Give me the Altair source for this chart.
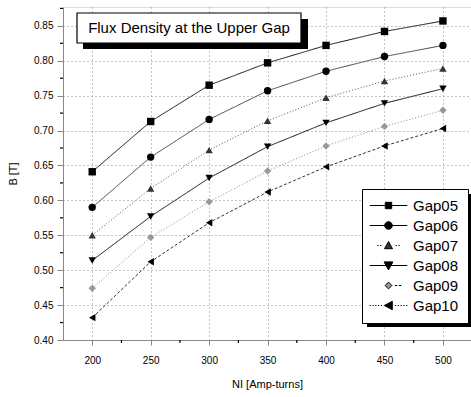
import altair as alt
import pandas as pd

ni = [200, 250, 300, 350, 400, 450, 500]
series_names = ["Gap05", "Gap06", "Gap07", "Gap08", "Gap09", "Gap10"]
gap05 = [0.641, 0.713, 0.765, 0.797, 0.822, 0.842, 0.857]
gap06 = [0.590, 0.662, 0.716, 0.757, 0.785, 0.806, 0.822]
gap07 = [0.550, 0.617, 0.672, 0.714, 0.747, 0.771, 0.789]
gap08 = [0.514, 0.577, 0.632, 0.677, 0.711, 0.739, 0.760]
gap09 = [0.474, 0.547, 0.598, 0.642, 0.678, 0.706, 0.729]
gap10 = [0.432, 0.512, 0.568, 0.612, 0.648, 0.678, 0.703]
x_ticks = [200, 250, 300, 350, 400, 450, 500]
x_minor = [225, 275, 325, 375, 425, 475]
y_ticks = [0.40, 0.45, 0.50, 0.55, 0.60, 0.65, 0.70, 0.75, 0.80, 0.85]
y_minor = [0.425, 0.475, 0.525, 0.575, 0.625, 0.675, 0.725, 0.775, 0.825, 0.875]
title_text = "Flux Density at the Upper Gap"

rows = []
for name, vals in zip(series_names, [gap05, gap06, gap07, gap08, gap09, gap10]):
    for x, y in zip(ni, vals):
        rows.append({"NI": x, "B": y, "series": name})
df = pd.DataFrame(rows)
df_xminor = pd.DataFrame({"NI": x_minor})
df_yminor = pd.DataFrame({"B": y_minor})

FONT = "Liberation Sans"
W, H = 408, 333

xscale = alt.Scale(domain=[175, 524], nice=False, zero=False)
yscale = alt.Scale(domain=[0.40, 0.877], nice=False, zero=False)

xenc = alt.X("NI:Q", scale=xscale, title="NI  [Amp-turns]",
             axis=alt.Axis(values=x_ticks, format="d", grid=True, gridDash=[1, 3],
                           gridColor="#888", tickSize=5, labelPadding=10,
                           titlePadding=13, titleFontWeight="normal", labelOverlap=False))
yenc = alt.Y("B:Q", scale=yscale, title="B  [T]",
             axis=alt.Axis(values=y_ticks, format=".2f", grid=True, gridDash=[1, 3],
                           gridColor="#888", tickSize=6, labelPadding=4,
                           titlePadding=15, titleFontWeight="normal", labelOverlap=False))

line_colors = ["#111", "#444", "#555", "#111", "#888", "#333"]
dashes = [[1, 0], [1, 0], [1, 2], [1, 0], [1, 2], [3, 2]]
point_colors = ["#000", "#000", "#333", "#000", "#999", "#000"]
shapes = ["square", "circle", "triangle-up", "triangle-down", "diamond", "triangle-left"]

# minor ticks, placed through the same scales and axes
minor_x = alt.Chart(df_xminor).mark_rule(color="black", strokeWidth=1.2).encode(
    x=xenc, y=alt.value(H), y2=alt.value(H + 3))
minor_y = alt.Chart(df_yminor).mark_rule(color="black", strokeWidth=1.2).encode(
    y=yenc, x=alt.value(-3), x2=alt.value(0))

lines = alt.Chart(df).mark_line(strokeWidth=1).encode(
    x=xenc, y=yenc,
    color=alt.Color("series:N", scale=alt.Scale(domain=series_names, range=line_colors), legend=None),
    strokeDash=alt.StrokeDash("series:N", scale=alt.Scale(domain=series_names, range=dashes), legend=None),
)

points = alt.Chart(df).mark_point(filled=True, size=55, opacity=1).encode(
    x=xenc, y=yenc,
    shape=alt.Shape("series:N", scale=alt.Scale(domain=series_names, range=shapes), legend=None),
    color=alt.Color("series:N", scale=alt.Scale(domain=series_names, range=point_colors), legend=None),
)

# legend symbols: line + marker as SVG paths
dots_l = "M-4.7,0H-4.4M-4,0H-3.7M-3.3,0H-3M-2.6,0H-2.3M-1.9,0H-1.6"
dots_r = "M1.6,0H1.9M2.3,0H2.6M3,0H3.3M3.7,0H4M4.4,0H4.7"
leg_paths = [
    "M-4.7,0H4.7M-0.8,-0.8H0.8V0.8H-0.8Z",
    "M-4.7,0H4.7M-0.95,0A0.95,0.95,0,1,0,0.95,0A0.95,0.95,0,1,0,-0.95,0Z",
    "M-2.8,0H-2.5M-2.1,0H-1.8M1.8,0H2.1M2.5,0H2.8M0,-1L1,0.8L-1,0.8Z",
    "M-4.7,0H4.7M0,1.1L1.1,-0.9L-1.1,-0.9Z",
    "M1.6,0H2.2M2.6,0H3.2M0,-0.85L0.85,0L0,0.85L-0.85,0Z",
    dots_l + dots_r + "M-1.05,0L0.95,-1.05L0.95,1.05Z",
]

legend_layer = alt.Chart(df).mark_point(filled=True, opacity=0, size=64,
                                        stroke="black", strokeWidth=1).encode(
    x=xenc, y=yenc,
    shape=alt.Shape("series:N", scale=alt.Scale(domain=series_names, range=leg_paths),
                    legend=alt.Legend(
                        title=None, orient="none", legendX=299, legendY=182,
                        fillColor="white", strokeColor="black", padding=9,
                        labelFont=FONT, labelFontSize=15, labelColor="black",
                        symbolSize=64, symbolStrokeWidth=1, symbolStrokeColor="black",
                        symbolOpacity=1, rowPadding=4, labelOffset=17, symbolOffset=10,
                    )),
    color=alt.Color("series:N", scale=alt.Scale(domain=series_names, range=point_colors)),
)

# decorations: title box with shadow, legend shadow
shadow_t = alt.Chart().mark_rect(color="black").encode(
    x=alt.value(20), x2=alt.value(245), y=alt.value(12), y2=alt.value(42))
box_t = alt.Chart().mark_rect(fill="white", stroke="black", strokeWidth=1.2).encode(
    x=alt.value(14), x2=alt.value(238), y=alt.value(6), y2=alt.value(36))
text_t = alt.Chart().mark_text(font=FONT, fontSize=15, align="center", baseline="middle",
                               color="black").encode(
    x=alt.value(126), y=alt.value(21), text=alt.value(title_text))
shadow_l = alt.Chart().mark_rect(color="black").encode(
    x=alt.value(304), x2=alt.value(412), y=alt.value(187), y2=alt.value(320))

chart = alt.layer(
    lines, points, legend_layer, minor_x, minor_y, shadow_t, box_t, text_t, shadow_l
).resolve_scale(color="independent", shape="independent").properties(
    width=W, height=H,
    autosize=alt.AutoSizeParams(type="none"),
    padding={"left": 63, "top": 7, "right": 0, "bottom": 57},
).configure_view(
    stroke="black", strokeWidth=1.5
).configure_axis(
    labelFont=FONT, titleFont=FONT, labelFontSize=13, titleFontSize=14,
    labelColor="black", titleColor="black", titleFontWeight="normal",
    domainColor="black", domainWidth=1.5, tickColor="black", tickWidth=1.2,
).configure(background="white")

chart.save("out.html", embed_options={"renderer": "svg", "actions": False})
